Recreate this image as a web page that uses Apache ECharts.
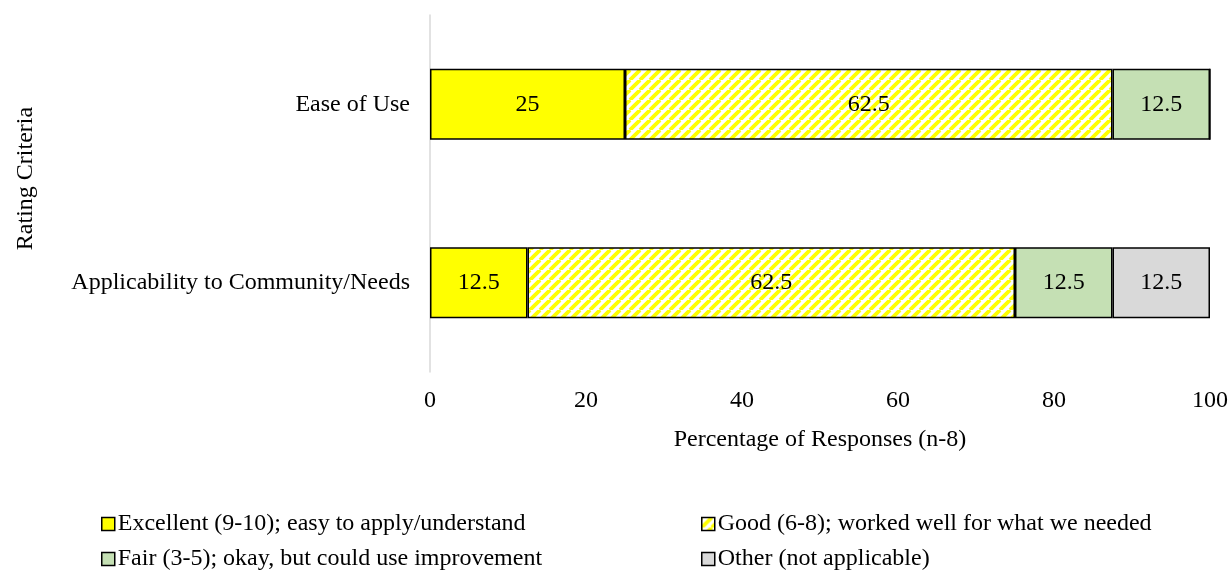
<!DOCTYPE html>
<html>
<head>
<meta charset="utf-8">
<script src="https://cdn.jsdelivr.net/npm/echarts@6/dist/echarts.min.js"></script>
<style>
  html, body { margin: 0; padding: 0; background: #fff; }
  #chart { width: 1231px; height: 571px; }
</style>
</head>
<body>
<div id="chart"></div>
<script>
const categories = ['Ease of Use', 'Applicability to Community/Needs'];
const excellent = [25, 12.5];
const good = [62.5, 62.5];
const fair = [12.5, 12.5];
const other = [0, 12.5];

const FONT = '"Liberation Serif", "Times New Roman", serif';

// diagonal yellow hatch for the "Good" series
function hatch() {
  const n = 10;
  const c = document.createElement('canvas');
  c.width = n; c.height = n;
  const ctx = c.getContext('2d');
  ctx.fillStyle = '#fff';
  ctx.fillRect(0, 0, n, n);
  ctx.strokeStyle = '#ffff00';
  ctx.lineWidth = 3.8;
  [-n, 0, n].forEach(k => {
    ctx.beginPath();
    ctx.moveTo(k, n);
    ctx.lineTo(k + n, 0);
    ctx.stroke();
  });
  return c;
}

const chart = echarts.init(document.getElementById('chart'));

const label = {
  show: true,
  position: 'inside',
  color: '#000',
  fontFamily: FONT,
  fontSize: 24,
  formatter: p => (p.value ? p.value : ''),
};

function bar(name, data, color) {
  return {
    name,
    type: 'bar',
    stack: 'total',
    data,
    barWidth: 71,
    label,
    itemStyle: { color, borderColor: '#000', borderWidth: 1.5 },
    emphasis: { disabled: true },
  };
}

const legendBase = {
  orient: 'vertical',
  top: 507,
  height: 80,
  itemGap: 11,
  itemWidth: 13,
  itemHeight: 13,
  icon: 'rect',
  itemStyle: { borderColor: '#000', borderWidth: 1.5 },
  textStyle: { color: '#000', fontSize: 24, fontFamily: FONT, padding: [0, 0, 0, -2] },
};

chart.setOption({
  animation: false,
  textStyle: { fontFamily: FONT },
  grid: { left: 430, right: 21, top: 15, bottom: 199 },
  xAxis: {
    type: 'value',
    min: 0,
    max: 100,
    interval: 20,
    axisLine: { show: false },
    axisTick: { show: false },
    splitLine: { show: false },
    axisLabel: { color: '#000', fontSize: 24, fontFamily: FONT, margin: 17 },
    name: 'Percentage of Responses (n-8)',
    nameLocation: 'middle',
    nameGap: 56,
    nameTextStyle: { color: '#000', fontSize: 24, fontFamily: FONT },
  },
  yAxis: {
    type: 'category',
    data: categories,
    inverse: true,
    axisLine: { show: true, lineStyle: { color: '#d9d9d9', width: 1.5 } },
    axisTick: { show: false },
    axisLabel: { color: '#000', fontSize: 24, fontFamily: FONT, margin: 20 },
    name: 'Rating Criteria',
    nameLocation: 'middle',
    nameGap: 392,
    nameRotate: 90,
    nameTextStyle: { color: '#000', fontSize: 24, fontFamily: FONT, padding: [0, 0, 0, 30] },
  },
  legend: [
    Object.assign({}, legendBase, {
      left: 96,
      data: ['Excellent (9-10); easy to apply/understand', 'Fair (3-5); okay, but could use improvement'],
    }),
    Object.assign({}, legendBase, {
      left: 696,
      data: ['Good (6-8); worked well for what we needed', 'Other (not applicable)'],
    }),
  ],
  series: [
    bar('Excellent (9-10); easy to apply/understand', excellent, '#ffff00'),
    bar('Good (6-8); worked well for what we needed', good, { image: hatch(), repeat: 'repeat' }),
    bar('Fair (3-5); okay, but could use improvement', fair, '#c5e0b4'),
    bar('Other (not applicable)', other, '#d9d9d9'),
  ],
});
</script>
</body>
</html>
